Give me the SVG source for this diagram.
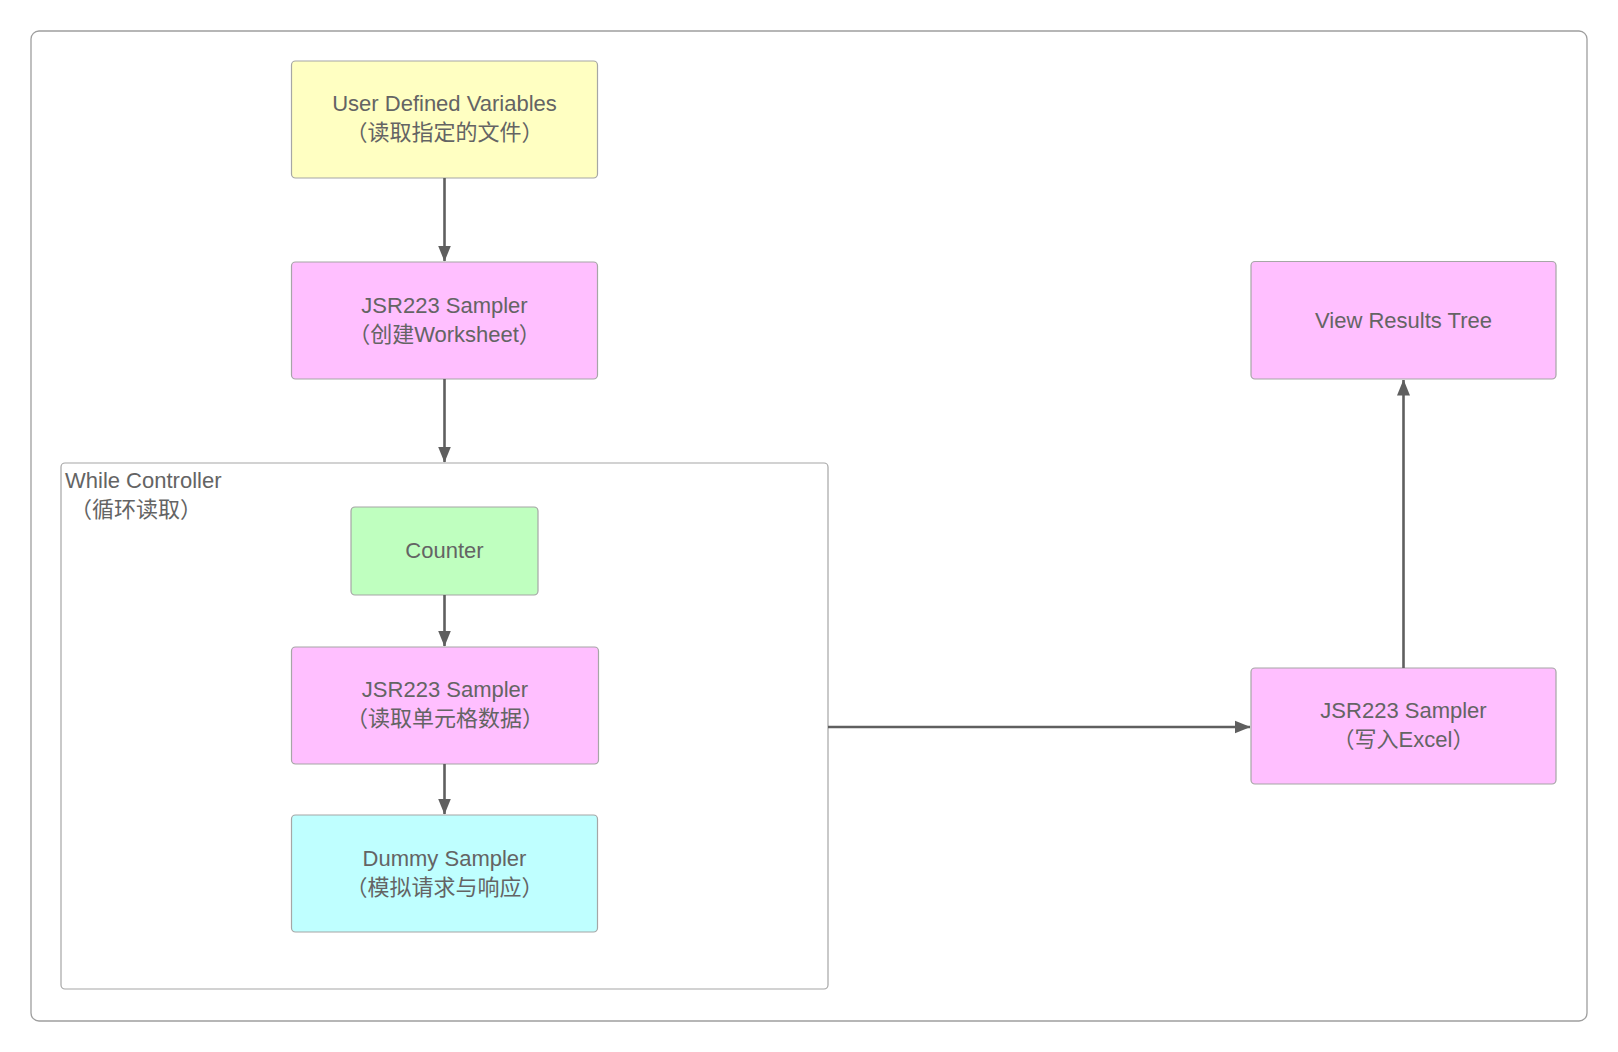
<svg xmlns="http://www.w3.org/2000/svg" width="1618" height="1052" viewBox="0 0 1618 1052">
<style>
.node{stroke:#a6a6a6;stroke-width:1.2}
.t{font-family:"Liberation Sans","Noto Sans CJK SC",sans-serif;font-size:22px;fill:#646464;text-anchor:middle;dominant-baseline:central}
.tl{font-family:"Liberation Sans","Noto Sans CJK SC",sans-serif;font-size:22px;fill:#646464;dominant-baseline:central}
.c{stroke:#5f5f5f;stroke-width:2.6;fill:none;marker-end:url(#ah)}
</style>
<defs>
<marker id="ah" viewBox="0 0 16 14" refX="15.5" refY="7" markerWidth="16" markerHeight="14" markerUnits="userSpaceOnUse" orient="auto">
<path d="M0,0.5 L16,7 L0,13.5 Z" fill="#5f5f5f"/>
</marker>
</defs>
<rect width="1618" height="1052" fill="#fff"/>
<rect x="31" y="31" width="1556" height="990" rx="8" fill="#fff" stroke="#9e9e9e" stroke-width="1.3"/>
<g id="while">
<rect x="61" y="463" width="767" height="526" rx="4" fill="#fff" stroke="#a6a6a6" stroke-width="1.2"/>
<text class="tl" x="65" y="480">While Controller</text>
<text class="tl" x="70" y="509">（循环读取）</text>
</g>
<g id="udv">
<rect class="node" x="291.5" y="61" width="306" height="117" rx="4" fill="#ffffc2"/>
<text class="t" x="444.5" y="103.5">User Defined Variables</text>
<text class="t" x="444.5" y="132.5">（读取指定的文件）</text>
</g>
<g id="jsr-ws">
<rect class="node" x="291.5" y="262" width="306" height="117" rx="4" fill="#ffbfff"/>
<text class="t" x="444.5" y="305.5">JSR223 Sampler</text>
<text class="t" x="444.5" y="334.5">（创建Worksheet）</text>
</g>
<g id="counter">
<rect class="node" x="351" y="507" width="187" height="88" rx="4" fill="#bfffbf"/>
<text class="t" x="444.5" y="550.5">Counter</text>
</g>
<g id="jsr-cell">
<rect class="node" x="291.5" y="647" width="307" height="117" rx="4" fill="#ffbfff"/>
<text class="t" x="445" y="689.5">JSR223 Sampler</text>
<text class="t" x="445" y="718.5">（读取单元格数据）</text>
</g>
<g id="dummy">
<rect class="node" x="291.5" y="815" width="306" height="117" rx="4" fill="#bfffff"/>
<text class="t" x="444.5" y="858.5">Dummy Sampler</text>
<text class="t" x="444.5" y="887.5">（模拟请求与响应）</text>
</g>
<g id="vrt">
<rect class="node" x="1251" y="261.5" width="305" height="117.5" rx="4" fill="#ffbfff"/>
<text class="t" x="1403.5" y="320">View Results Tree</text>
</g>
<g id="jsr-excel">
<rect class="node" x="1251" y="668" width="305" height="116" rx="4" fill="#ffbfff"/>
<text class="t" x="1403.5" y="710.5">JSR223 Sampler</text>
<text class="t" x="1403.5" y="739.5">（写入Excel）</text>
</g>
<g id="connectors">
<line class="c" x1="444.5" y1="178" x2="444.5" y2="261"/>
<line class="c" x1="444.5" y1="379" x2="444.5" y2="462"/>
<line class="c" x1="444.5" y1="595" x2="444.5" y2="646"/>
<line class="c" x1="444.5" y1="764" x2="444.5" y2="814"/>
<line class="c" x1="828" y1="727" x2="1250" y2="727"/>
<line class="c" x1="1403.5" y1="668" x2="1403.5" y2="380"/>
</g>
</svg>
